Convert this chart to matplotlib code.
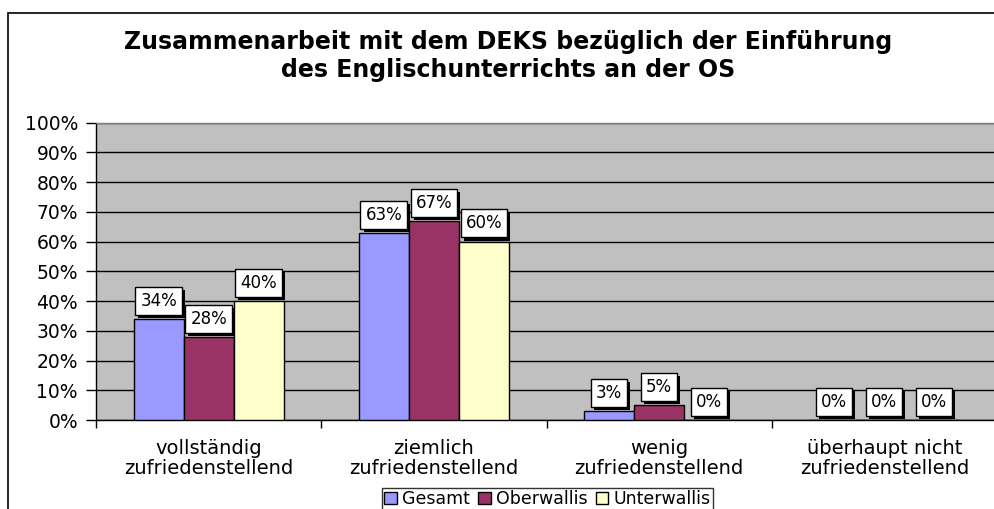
import matplotlib
matplotlib.use("Agg")
import matplotlib.pyplot as plt
import numpy as np
from matplotlib.patches import Patch, Rectangle
from matplotlib import patheffects as pe

categories = ["vollständig\nzufriedenstellend", "ziemlich\nzufriedenstellend",
              "wenig\nzufriedenstellend", "überhaupt nicht\nzufriedenstellend"]
series_names = ["Gesamt", "Oberwallis", "Unterwallis"]
gesamt = [34, 63, 3, 0]
oberwallis = [28, 67, 5, 0]
unterwallis = [40, 60, 0, 0]
yticks = [0, 10, 20, 30, 40, 50, 60, 70, 80, 90, 100]
title = "Zusammenarbeit mit dem DEKS bezüglich der Einführung\ndes Englischunterrichts an der OS"

colors = ["#9999FF", "#993366", "#FFFFCC"]
W, H, DPI = 994, 509, 100
plt.rcParams['font.family'] = ['DejaVu Sans']

fig = plt.figure(figsize=(W / DPI, H / DPI), dpi=DPI)
fig.patch.set_facecolor("white")

# outer chart frame (extends beyond right/bottom edges)
fig.patches.append(Rectangle((8 / W, -0.2), 1.5, (H - 13) / H + 0.2, transform=fig.transFigure,
                             fill=False, edgecolor="black", linewidth=1.2, zorder=0))

left, right = 96 / W, 997 / W
bottom, top = (H - 420) / H, (H - 122.7) / H
ax = fig.add_axes([left, bottom, right - left, top - bottom])
ax.set_facecolor("#C0C0C0")

x = np.arange(len(categories))
bw = 0.222
data = [gesamt, oberwallis, unterwallis]
for i, (vals, c) in enumerate(zip(data, colors)):
    xs = x + (i - 1) * bw
    ax.bar(xs, vals, width=bw, color=c, edgecolor="black", linewidth=1, zorder=3)
    for xi, v in zip(xs, vals):
        t = ax.annotate(f"{v}%", xy=(xi, v), xytext=(0, 6.6), textcoords="offset points",
                        ha="center", va="bottom", fontsize=12, zorder=5,
                        bbox=dict(boxstyle="square,pad=0.3", facecolor="white",
                                  edgecolor="black", linewidth=1))
        t.get_bbox_patch().set_path_effects([
            pe.SimplePatchShadow(offset=(2.2, -2.2), shadow_rgbFace="black", alpha=1.0),
            pe.Normal()])

ax.set_xlim(-0.5, len(categories) - 0.5)
ax.set_ylim(0, 100)
ax.set_yticks(yticks)
ax.set_yticklabels([f"{v}%" for v in yticks], fontsize=13.5)
ax.yaxis.grid(True, color="black", linewidth=1, zorder=1)
ax.set_axisbelow(True)

ax.set_xticks(x)
ax.set_xticklabels(categories, fontsize=14, linespacing=1.05)
ax.set_xticks(np.arange(len(categories) + 1) - 0.5, minor=True)
ax.tick_params(axis="x", which="major", length=0, pad=14)
ax.tick_params(axis="x", which="minor", length=6, width=1, direction="out")
ax.tick_params(axis="y", length=7, width=1, direction="out", pad=6)

for s in ["left", "bottom"]:
    ax.spines[s].set_color("black")
    ax.spines[s].set_linewidth(1)
for s in ["top", "right"]:
    ax.spines[s].set_color("#808080")
    ax.spines[s].set_linewidth(1)

fig.text(508 / W, (H - 56) / H, title, ha="center", va="center", fontsize=17,
         fontweight="bold", linespacing=1.2)

handles = [Patch(facecolor=c, edgecolor="black", linewidth=1) for c in colors]
leg = fig.legend(handles, series_names, loc="upper center", bbox_to_anchor=(547.5 / W, (H - 488) / H),
                 ncol=3, fontsize=12.5, frameon=True, fancybox=False, edgecolor="black",
                 handlelength=0.7, handleheight=0.7, handletextpad=0.3, columnspacing=0.5,
                 borderpad=0.12, borderaxespad=0)
leg.get_frame().set_linewidth(1)

fig.savefig("out.png", dpi=DPI)
